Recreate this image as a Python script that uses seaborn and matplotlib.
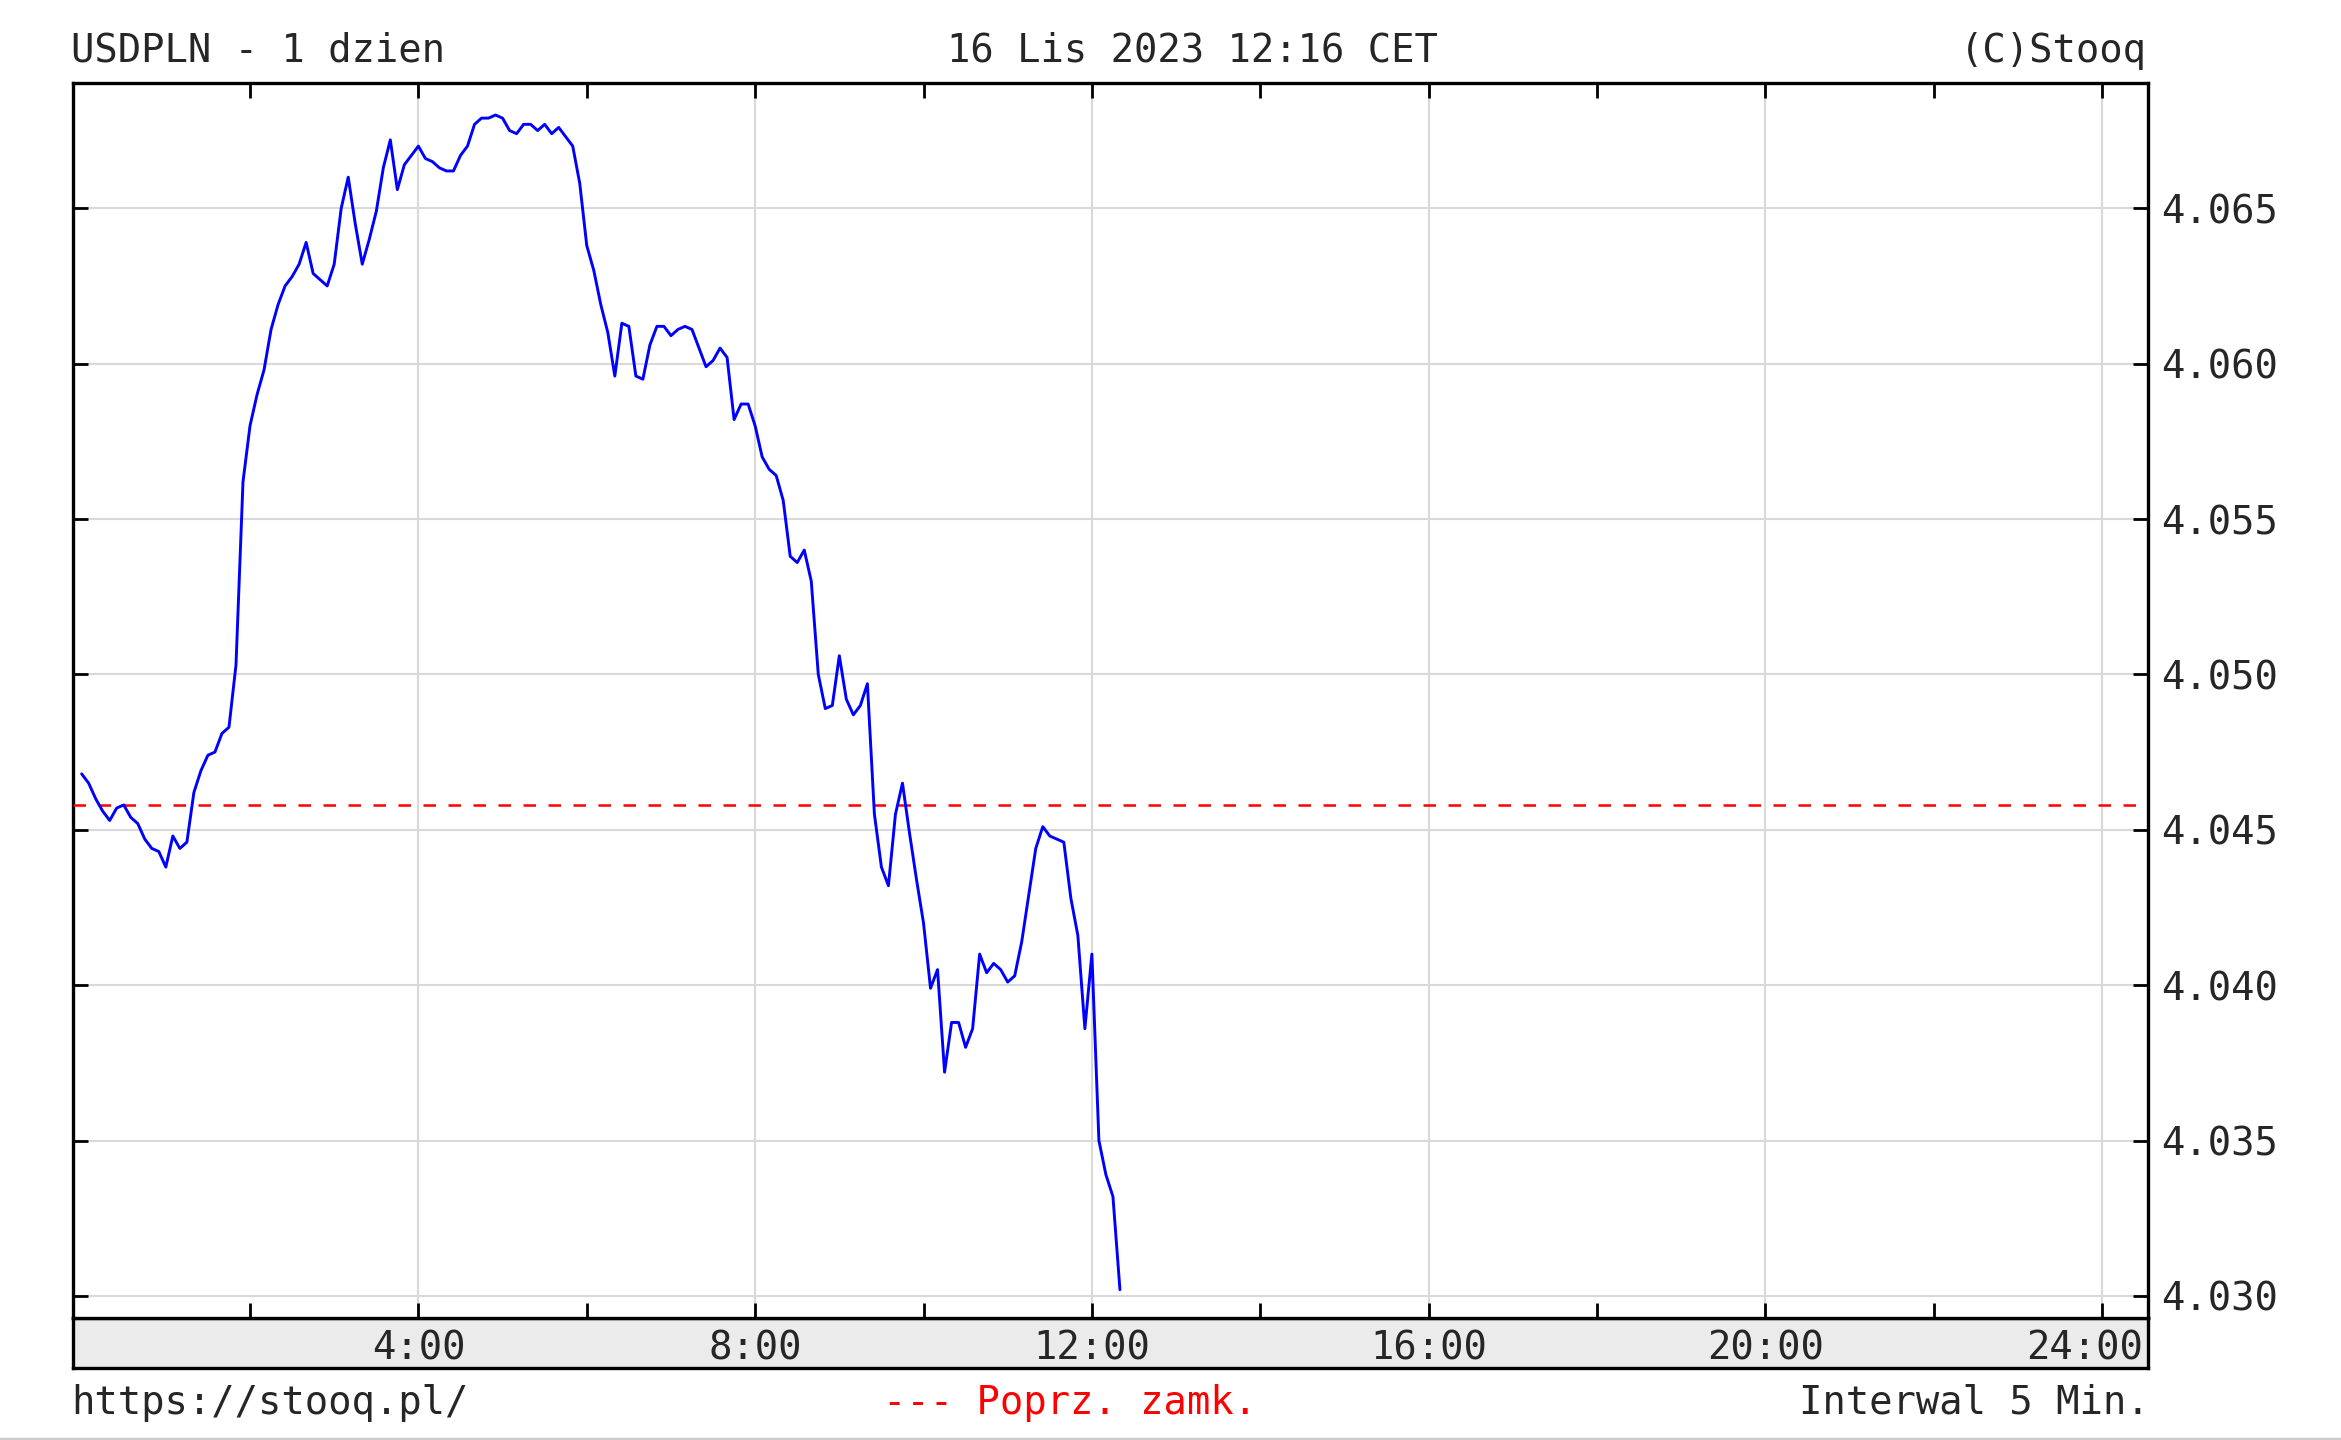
import numpy as np
import pandas as pd
import seaborn as sns
import matplotlib
matplotlib.use("Agg")
import matplotlib.pyplot as plt
from matplotlib.ticker import FormatStrFormatter, FixedLocator
from matplotlib.lines import Line2D
from matplotlib.transforms import ScaledTranslation

# USDPLN quotes, 5-minute interval, starting at 0:00
usdpln = [
    4.0468, 4.0465, 4.0460, 4.0456, 4.0453, 4.0457, 4.0458, 4.0454, 4.0452, 4.0447,
    4.0444, 4.0443, 4.0438, 4.0448, 4.0444, 4.0446, 4.0462, 4.0469, 4.0474, 4.0475,
    4.0481, 4.0483, 4.0503, 4.0562, 4.0580, 4.0590, 4.0598, 4.0611, 4.0619, 4.0625,
    4.0628, 4.0632, 4.0639, 4.0629, 4.0627, 4.0625, 4.0632, 4.0650, 4.0660, 4.0645,
    4.0632, 4.0640, 4.0649, 4.0663, 4.0672, 4.0656, 4.0664, 4.0667, 4.0670, 4.0666,
    4.0665, 4.0663, 4.0662, 4.0662, 4.0667, 4.0670, 4.0677, 4.0679, 4.0679, 4.0680,
    4.0679, 4.0675, 4.0674, 4.0677, 4.0677, 4.0675, 4.0677, 4.0674, 4.0676, 4.0673,
    4.0670, 4.0658, 4.0638, 4.0630, 4.0619, 4.0610, 4.0596, 4.0613, 4.0612, 4.0596,
    4.0595, 4.0606, 4.0612, 4.0612, 4.0609, 4.0611, 4.0612, 4.0611, 4.0605, 4.0599,
    4.0601, 4.0605, 4.0602, 4.0582, 4.0587, 4.0587, 4.0580, 4.0570, 4.0566, 4.0564,
    4.0556, 4.0538, 4.0536, 4.0540, 4.0530, 4.0500, 4.0489, 4.0490, 4.0506, 4.0492,
    4.0487, 4.0490, 4.0497, 4.0455, 4.0438, 4.0432, 4.0455, 4.0465, 4.0449, 4.0434,
    4.0420, 4.0399, 4.0405, 4.0372, 4.0388, 4.0388, 4.0380, 4.0386, 4.0410, 4.0404,
    4.0407, 4.0405, 4.0401, 4.0403, 4.0414, 4.0429, 4.0444, 4.0451, 4.0448, 4.0447,
    4.0446, 4.0428, 4.0416, 4.0386, 4.0410, 4.0350, 4.0339, 4.0332, 4.0302,
]
interval_min = 5
prev_close = 4.0458

hour_ticks = [4, 8, 12, 16, 20, 24]
hour_labels = ["4:00", "8:00", "12:00", "16:00", "20:00", "24:00"]
hour_minor = [2, 6, 10, 14, 18, 22]
price_ticks = [4.030, 4.035, 4.040, 4.045, 4.050, 4.055, 4.060, 4.065]

df = pd.DataFrame({"hour": np.arange(len(usdpln)) * interval_min / 60, "price": usdpln})

sns.set_style("white")
plt.rcParams["font.family"] = ["DejaVu Sans Mono"]

W, H = 2341, 1440
fig = plt.figure(figsize=(W / 100, H / 100), dpi=100)
fig.patch.set_facecolor("white")

x0, x1 = 73.3, 2147.6
y_top, y_bot, y_band = 82.7, 1318, 1368
ax = fig.add_axes([x0 / W, 1 - y_bot / H, (x1 - x0) / W, (y_bot - y_top) / H])
band = fig.add_axes([x0 / W, 1 - y_band / H, (x1 - x0) / W, (y_band - y_bot) / H])
ax.set_zorder(2)
band.set_zorder(1)

# grey strip under the plot holding the hour labels
band.set_facecolor("#ebebeb")
band.set_xticks([])
band.set_yticks([])
for s in band.spines.values():
    s.set_color("black")
    s.set_linewidth(2.4)

ax.set_facecolor("white")
ax.grid(True, which="major", color="#d9d9d9", linewidth=1.5, zorder=0)
ax.axhline(prev_close, color="#ff0000", linewidth=1.8, dashes=(5, 5), zorder=3)
sns.lineplot(data=df, x="hour", y="price", ax=ax, color="#0000ff", linewidth=2.1, zorder=4)

ax.set_xlim(-0.099, 24.54)
ax.set_ylim(4.02929, 4.06904)
ax.xaxis.set_major_locator(FixedLocator(hour_ticks))
ax.xaxis.set_minor_locator(FixedLocator(hour_minor))
ax.set_xticklabels(hour_labels)
ax.set_yticks(price_ticks)
ax.yaxis.set_major_formatter(FormatStrFormatter("%.3f"))
ax.set_xlabel("")
ax.set_ylabel("")

ax.tick_params(axis="x", which="both", direction="in", top=True, bottom=True,
               length=10.5, width=2, color="black", labelsize=28, pad=8)
ax.tick_params(axis="y", which="both", direction="in", left=True, right=True,
               labelleft=False, labelright=True, length=11, width=2,
               color="black", labelsize=28, pad=10)
for s in ax.spines.values():
    s.set_color("black")
    s.set_linewidth(2.4)

# the last hour label sits inside the strip, pulled left of its gridline
last = ax.xaxis.get_major_ticks()[-1].label1
last.set_transform(last.get_transform() + ScaledTranslation(-0.18, 0, fig.dpi_scale_trans))

# header and footer texts
fs = 28
fig.text(71 / W, 1 - 51 / H, "USDPLN - 1 dzien", fontsize=fs, ha="left", va="center")
fig.text(1192 / W, 1 - 51 / H, "16 Lis 2023 12:16 CET", fontsize=fs, ha="center", va="center")
fig.text(2147 / W, 1 - 51 / H, "(C)Stooq", fontsize=fs, ha="right", va="center")
fig.text(71 / W, 1 - 1403 / H, "https://stooq.pl/", fontsize=fs, ha="left", va="center")
fig.text(1070 / W, 1 - 1403 / H, "--- Poprz. zamk.", fontsize=fs, ha="center", va="center",
         color="#ff0000")
fig.text(2150 / W, 1 - 1403 / H, "Interwal 5 Min.", fontsize=fs, ha="right", va="center")
fig.add_artist(Line2D([0, 1], [1.5 / H, 1.5 / H], color="#cccccc", linewidth=2.5,
                      transform=fig.transFigure))

fig.savefig("out.png", dpi=100)
